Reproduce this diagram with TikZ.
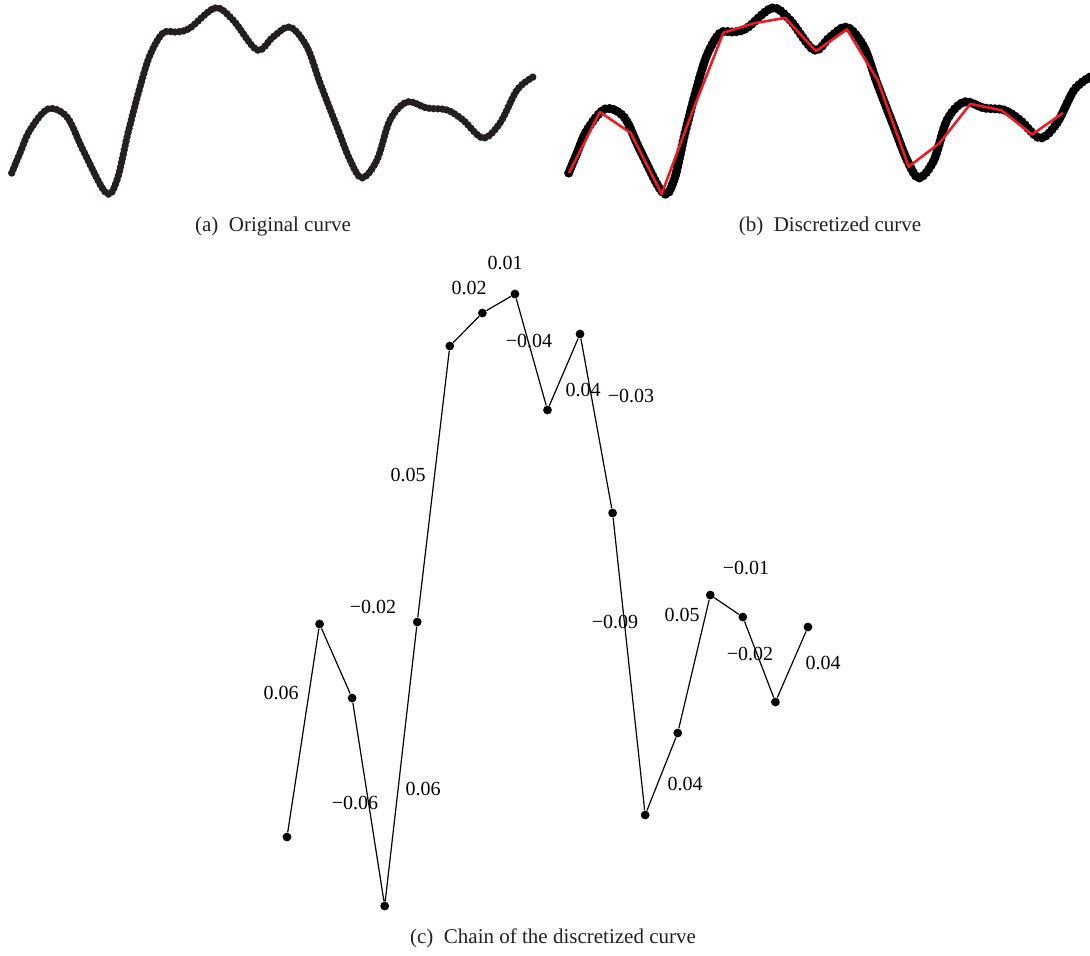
\documentclass[tikz,border=0pt]{standalone}
\usepackage{fontspec}
\setmainfont{Liberation Serif}
\usepackage{xcolor}

\definecolor{curvegray}{RGB}{35,31,32}
\definecolor{chainred}{RGB}{237,28,36}

\tikzset{
  beads/.style n args={3}{draw=#1, line width=#2, line cap=round,
    postaction={draw=#1, line width=#3, line cap=round, dash pattern=on 0pt off 2.2pt}},
  redline/.style={chainred, line width=1.3pt, line join=round},
  chaindot/.style={circle, fill=black, inner sep=0pt, minimum size=4.4pt},
  chainline/.style={line width=0.6pt},
  lab/.style={text=black, inner sep=1pt},
  captext/.style={text=curvegray, inner sep=1pt, font=\fontsize{10.5pt}{12pt}\selectfont}
}

\begin{document}
\begin{tikzpicture}[x=0.5pt,y=-0.5pt]
  \useasboundingbox (0,0) rectangle (1090,955);

  % (a), (b) 元の曲線
  \foreach \dx/\c/\w/\r in {0/curvegray/1.8pt/3.7pt, 557/black/2.2pt/4.6pt}
    \draw[beads={\c}{\w}{\r}, shift={(\dx,0)}] plot[smooth, tension=0.55] coordinates {
      (11.7,173) (20,153) (30,130) (48,109) (67,117) (83,150) (106,193)
      (117,180) (128,133) (140,87) (150,55) (163,33) (177,32) (190,28)
      (215,8) (233,20) (257,50) (273,37) (290,27) (307,47) (320,83)
      (337,127) (350,160) (362,178) (377,160) (390,120) (407,102)
      (427,108) (447,110) (463,120) (483,138) (500,123) (517,90) (533,77)};

  % (b) 離散化
  \foreach \y [count=\i] in {173,112,133,194,111.5,32.7,23.2,17.9,51.1,29.4,80.3,166.7,143.2,103.9,110.2,134.5,112.9}
    \coordinate (r\i) at ({569+30.875*(\i-1)},\y);
  \draw[redline] (r1) \foreach \i in {2,...,17} {-- (r\i)};

  % (c) チェーン
  \foreach \y [count=\i] in {837,624,698,906,622,346,313,294,410,334,513,815,733,595,617,702,627}
    \node[chaindot] (c\i) at ({287+32.56*(\i-1)},\y) {};
  \draw[chainline] (c1) -- (c2) -- (c3) -- (c4) -- (c5) -- (c6) -- (c7) -- (c8) -- (c9)
    -- (c10) -- (c11) -- (c12) -- (c13) -- (c14) -- (c15) -- (c16) -- (c17);

  % ラベル
  \foreach \x/\y/\t [count=\i] in {281/693/0.06, 373/607/−0.02, 355/803/−0.06,
      423/789/0.06, 408/475/0.05, 469/288/0.02, 505/263/0.01, 529/341/−0.04,
      583/390/0.04, 631/396/−0.03, 615/622/−0.09, 685/784/0.04, 682/615/0.05,
      746/568/−0.01, 750/654/−0.02, 823/663/0.04}
    \node[lab] (l\i) at (\x,\y) {\t};

  % キャプション
  \node[captext] (capa) at (273,226) {(a)\ \ Original curve};
  \node[captext] (capb) at (830,226) {(b)\ \ Discretized curve};
  \node[captext] (capc) at (553,938) {(c)\ \ Chain of the discretized curve};
\end{tikzpicture}
\end{document}
